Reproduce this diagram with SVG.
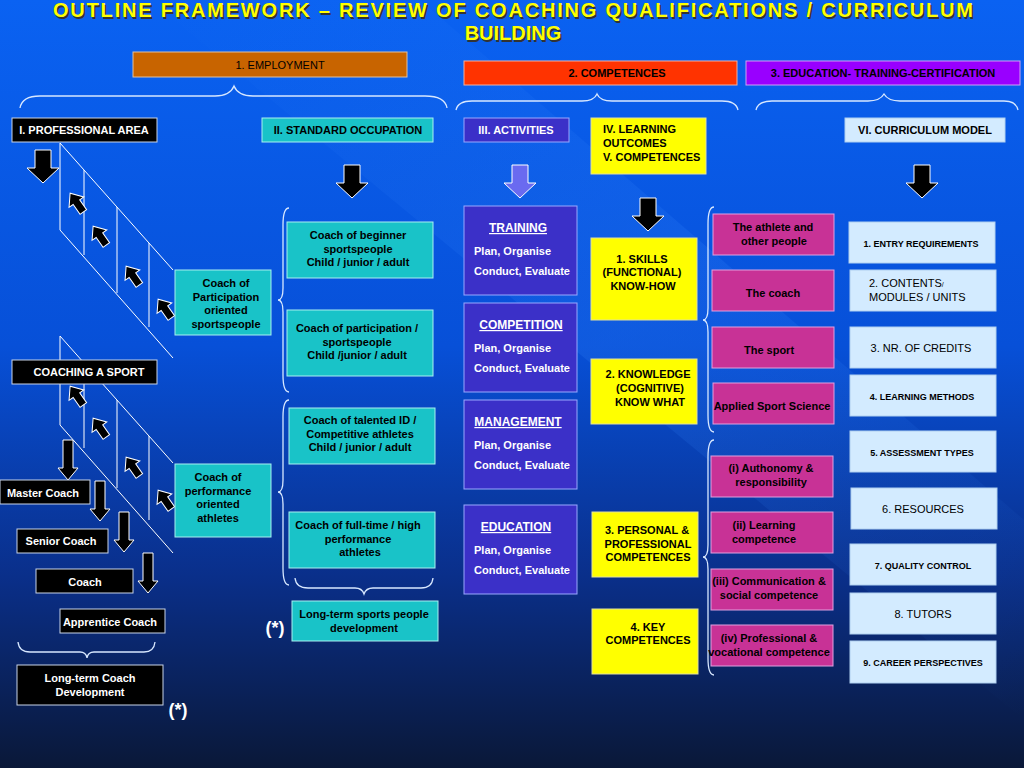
<svg xmlns="http://www.w3.org/2000/svg" xmlns:xlink="http://www.w3.org/1999/xlink" width="1024" height="768" viewBox="0 0 1024 768">
<defs>
<linearGradient id="bg" x1="0" y1="0" x2="0" y2="1">
<stop offset="0" stop-color="#0a62f2"/><stop offset="0.45" stop-color="#0750d8"/><stop offset="0.75" stop-color="#0a2f8a"/><stop offset="1" stop-color="#0a1838"/>
</linearGradient>
<linearGradient id="band" x1="0" y1="0" x2="1" y2="1">
<stop offset="0" stop-color="#3a8cff" stop-opacity="0"/><stop offset="0.5" stop-color="#3a8cff" stop-opacity="0.25"/><stop offset="1" stop-color="#3a8cff" stop-opacity="0"/>
</linearGradient>
<path id="bigDown" d="M-8,0 H8 V18 H16 L0,33 L-16,18 H-8 Z"/>
<path id="thinDown" d="M-5,0 H5 V28 H10 L0,40 L-10,28 H-5 Z"/>
<path id="upArr" d="M-4,11 V-1 H-9 L0,-12 L9,-1 H4 V11 Z"/>
<style>
text{font-family:"Liberation Sans",Arial,sans-serif;font-weight:bold;text-anchor:middle}
.w{fill:#fff}.k{fill:#000}
.s11{font-size:11px}.s10{font-size:10px}.s9{font-size:9px}.s12{font-size:12px}
.n{font-weight:normal}
.blk{fill:#000;stroke:#c8d4e8;stroke-width:1}
.cy{fill:#19c3c8;stroke:#a8f0f0;stroke-width:1}
.pu{fill:#3b30c8;stroke:#9aa8ff;stroke-width:1}
.ye{fill:#ffff00;stroke:#e0e0a0;stroke-width:1}
.mg{fill:#c83296;stroke:#e0a0e0;stroke-width:1}
.lb{fill:#d3ebff;stroke:#b0d0f0;stroke-width:1}
.arr{fill:#000;stroke:#fff;stroke-width:1}
.ln{fill:none;stroke:#fff;stroke-width:1}
.br{fill:none;stroke:#d8e8ff;stroke-width:1.3}
</style>
</defs>
<rect width="1024" height="768" fill="url(#bg)"/>
<polygon points="150,0 420,0 1024,520 1024,720" fill="url(#band)" opacity="0.7"/>

<g id="title">
<text x="513" y="17" font-size="20" fill="#333" textLength="920" transform="translate(1.5,1.5)">OUTLINE FRAMEWORK – REVIEW OF COACHING QUALIFICATIONS / CURRICULUM</text>
<text x="513" y="17" font-size="20" fill="#ffff00" textLength="920">OUTLINE FRAMEWORK – REVIEW OF COACHING QUALIFICATIONS / CURRICULUM</text>
<text x="513" y="40" font-size="20" fill="#333" transform="translate(1.5,1.5)">BUILDING</text>
<text x="513" y="40" font-size="20" fill="#ffff00">BUILDING</text>
</g>

<g id="headers">
<g id="employment"><rect x="133" y="52" width="274" height="25" fill="#c86400" stroke="#e0c0a0"/><text x="280" y="69" class="s11 k n" font-weight="bold">1. EMPLOYMENT</text></g>
<g id="competences"><rect x="464" y="61" width="273" height="24" fill="#ff3300" stroke="#f0b0a0"/><text x="617" y="77" class="s11 k">2. COMPETENCES</text></g>
<g id="education"><rect x="746" y="61" width="274" height="24" fill="#9900ff" stroke="#d0a0f0"/><text x="883" y="77" class="s11 k">3. EDUCATION- TRAINING-CERTIFICATION</text></g>
</g>

<g id="braces">
<path class="br" d="M20,108 Q22,96 40,96 L215,96 Q230,96 234,86 Q238,96 253,96 L425,96 Q445,96 447,108"/>
<path class="br" d="M456,110 Q458,101 472,101 L582,101 Q594,101 597,94 Q600,101 612,101 L722,101 Q736,101 738,110"/>
<path class="br" d="M756,110 Q758,101 772,101 L868,101 Q880,101 884,94 Q888,101 900,101 L1004,101 Q1016,101 1018,110"/>
<path class="br" d="M289,208 Q283,208 283,225 L283,288 Q283,300 278,300 Q283,300 283,312 L283,375 Q283,392 289,392"/>
<path class="br" d="M289,400 Q283,400 283,417 L283,480 Q283,492 278,492 Q283,492 283,504 L283,568 Q283,585 289,585"/>
<path class="br" d="M295,578 Q296,588 308,588 L355,588 Q362,588 364,594 Q366,588 373,588 L421,588 Q432,588 433,578"/>
<path class="br" d="M714,207 Q708,207 708,224 L708,308 Q708,320 703,320 Q708,320 708,332 L708,415 Q708,432 714,432"/>
<path class="br" d="M714,440 Q708,440 708,457 L708,545 Q708,557 703,557 Q708,557 708,569 L708,658 Q708,675 714,675"/>
<path class="br" d="M18,642 Q19,652 30,652 L80,652 Q86,652 87,658 Q88,652 94,652 L144,652 Q154,652 155,642"/>
</g>

<g id="connectors">
<path class="ln" d="M60,143 V230 L173,358 M60,143 L173,270 M84,170 V255 M117,207 V293 M149,243 V327"/>
<path class="ln" d="M60,336 V425 L173,553 M60,336 L173,463 M84,364 V448 M117,400 V488 M149,436 V520"/>
<use href="#bigDown" class="arr" transform="translate(43,150)"/>
<use href="#bigDown" class="arr" transform="translate(352,165)"/>
<use href="#bigDown" fill="#6a6af0" stroke="#fff" transform="translate(520,165)"/>
<use href="#bigDown" class="arr" transform="translate(648,198)"/>
<use href="#bigDown" class="arr" transform="translate(922,165)"/>
<use href="#thinDown" class="arr" transform="translate(68,440)"/>
<use href="#thinDown" class="arr" transform="translate(100,481)"/>
<use href="#thinDown" class="arr" transform="translate(124,512)"/>
<use href="#thinDown" class="arr" transform="translate(148,553)"/>
<use href="#upArr" class="arr" transform="translate(77,203) rotate(-35)"/>
<use href="#upArr" class="arr" transform="translate(100,236) rotate(-35)"/>
<use href="#upArr" class="arr" transform="translate(133,276) rotate(-35)"/>
<use href="#upArr" class="arr" transform="translate(165,309) rotate(-35)"/>
<use href="#upArr" class="arr" transform="translate(77,396) rotate(-35)"/>
<use href="#upArr" class="arr" transform="translate(100,428) rotate(-35)"/>
<use href="#upArr" class="arr" transform="translate(133,467) rotate(-35)"/>
<use href="#upArr" class="arr" transform="translate(165,500) rotate(-35)"/>
</g>

<g id="n-prof"><rect x="12" y="118" width="145" height="24" class="blk"/><text x="84" y="134" class="s11 w">I. PROFESSIONAL AREA</text></g>
<g id="n-std"><rect x="262" y="118" width="171" height="24" class="cy"/><text x="348" y="134" class="s11 k">II. STANDARD OCCUPATION</text></g>
<g id="n-act"><rect x="464" y="118" width="105" height="24" class="pu"/><text x="516" y="134" class="s11 w">III. ACTIVITIES</text></g>
<g id="n-lo"><rect x="591" y="118" width="115" height="56" class="ye"/><text x="603" y="133" class="s11 k" text-anchor="start" style="text-anchor:start">IV. LEARNING</text><text x="603" y="147" class="s11 k" style="text-anchor:start">OUTCOMES</text><text x="603" y="161" class="s11 k" style="text-anchor:start">V. COMPETENCES</text></g>
<g id="n-cm"><rect x="845" y="118" width="160" height="24" class="lb"/><text x="925" y="134" class="s11 k">VI. CURRICULUM MODEL</text></g>

<g id="n-cas"><rect x="12" y="360" width="145" height="24" class="blk"/><text x="89" y="376" class="s11 w">COACHING A SPORT</text></g>
<g id="n-master"><rect x="0" y="480" width="90" height="24" class="blk"/><text x="43" y="497" class="s11 w">Master Coach</text></g>
<g id="n-senior"><rect x="17" y="529" width="91" height="24" class="blk"/><text x="61" y="545" class="s11 w">Senior Coach</text></g>
<g id="n-coach"><rect x="36" y="569" width="97" height="24" class="blk"/><text x="85" y="586" class="s11 w">Coach</text></g>
<g id="n-appr"><rect x="60" y="609" width="105" height="24" class="blk"/><text x="110" y="626" class="s11 w">Apprentice Coach</text></g>
<g id="n-ltcd"><rect x="17" y="665" width="146" height="40" class="blk"/><text x="90" y="682" class="s11 w">Long-term Coach</text><text x="90" y="696" class="s11 w">Development</text></g>
<text x="178" y="716" font-size="18" class="w">(*)</text>
<text x="275" y="634" font-size="18" class="w">(*)</text>

<g id="n-cpart"><rect x="175" y="270" width="96" height="65" class="cy"/><text x="226" y="287" class="s11 k">Coach of</text><text x="226" y="301" class="s11 k">Participation</text><text x="226" y="314" class="s11 k">oriented</text><text x="226" y="328" class="s11 k">sportspeople</text></g>
<g id="n-cperf"><rect x="175" y="464" width="96" height="73" class="cy"/><text x="218" y="481" class="s11 k">Coach of</text><text x="218" y="495" class="s11 k">performance</text><text x="218" y="508" class="s11 k">oriented</text><text x="218" y="522" class="s11 k">athletes</text></g>

<g id="n-beg"><rect x="287" y="222" width="146" height="56" class="cy"/><text x="358" y="239" class="s11 k">Coach of beginner</text><text x="358" y="253" class="s11 k">sportspeople</text><text x="358" y="266" class="s11 k">Child / junior / adult</text></g>
<g id="n-par"><rect x="287" y="310" width="146" height="66" class="cy"/><text x="357" y="332" class="s11 k">Coach of participation /</text><text x="357" y="346" class="s11 k">sportspeople</text><text x="357" y="359" class="s11 k">Child /junior / adult</text></g>
<g id="n-tal"><rect x="289" y="408" width="146" height="56" class="cy"/><text x="360" y="424" class="s11 k">Coach of talented ID /</text><text x="360" y="438" class="s11 k">Competitive athletes</text><text x="360" y="451" class="s11 k">Child / junior / adult</text></g>
<g id="n-ft"><rect x="289" y="512" width="146" height="56" class="cy"/><text x="358" y="529" class="s11 k">Coach of full-time / high</text><text x="358" y="543" class="s11 k">performance</text><text x="360" y="556" class="s11 k">athletes</text></g>
<g id="n-ltsp"><rect x="292" y="601" width="146" height="40" class="cy"/><text x="364" y="618" class="s11 k">Long-term sports people</text><text x="364" y="632" class="s11 k">development</text></g>

<g id="n-train"><rect x="464" y="206" width="113" height="89" class="pu"/><text x="518" y="232" class="s12 w" text-decoration="underline">TRAINING</text><text x="474" y="255" class="s11 w" style="text-anchor:start">Plan, Organise</text><text x="474" y="275" class="s11 w" style="text-anchor:start">Conduct, Evaluate</text></g>
<g id="n-comp"><rect x="464" y="303" width="113" height="89" class="pu"/><text x="521" y="329" class="s12 w" text-decoration="underline">COMPETITION</text><text x="474" y="352" class="s11 w" style="text-anchor:start">Plan, Organise</text><text x="474" y="372" class="s11 w" style="text-anchor:start">Conduct, Evaluate</text></g>
<g id="n-mgmt"><rect x="464" y="400" width="113" height="89" class="pu"/><text x="518" y="426" class="s12 w" text-decoration="underline">MANAGEMENT</text><text x="474" y="449" class="s11 w" style="text-anchor:start">Plan, Organise</text><text x="474" y="469" class="s11 w" style="text-anchor:start">Conduct, Evaluate</text></g>
<g id="n-edu"><rect x="464" y="505" width="113" height="89" class="pu"/><text x="516" y="531" class="s12 w" text-decoration="underline">EDUCATION</text><text x="474" y="554" class="s11 w" style="text-anchor:start">Plan, Organise</text><text x="474" y="574" class="s11 w" style="text-anchor:start">Conduct, Evaluate</text></g>

<g id="n-skills"><rect x="591" y="238" width="106" height="82" class="ye"/><text x="642" y="263" class="s11 k">1. SKILLS</text><text x="642" y="276" class="s11 k">(FUNCTIONAL)</text><text x="643" y="290" class="s11 k">KNOW-HOW</text></g>
<g id="n-know"><rect x="591" y="359" width="106" height="65" class="ye"/><text x="648" y="378" class="s11 k">2. KNOWLEDGE</text><text x="650" y="392" class="s11 k">(COGNITIVE)</text><text x="650" y="406" class="s11 k">KNOW WHAT</text></g>
<g id="n-pers"><rect x="592" y="512" width="106" height="65" class="ye"/><text x="647" y="534" class="s11 k">3. PERSONAL &amp;</text><text x="648" y="548" class="s11 k">PROFESSIONAL</text><text x="648" y="561" class="s11 k">COMPETENCES</text></g>
<g id="n-key"><rect x="592" y="609" width="106" height="65" class="ye"/><text x="648" y="631" class="s11 k">4. KEY</text><text x="648" y="644" class="s11 k">COMPETENCES</text></g>

<g id="n-ath"><rect x="713" y="214" width="121" height="41" class="mg"/><text x="773" y="231" class="s11 k">The athlete and</text><text x="774" y="245" class="s11 k">other people</text></g>
<g id="n-thecoach"><rect x="712" y="270" width="122" height="41" class="mg"/><text x="773" y="297" class="s11 k">The coach</text></g>
<g id="n-sport"><rect x="712" y="327" width="122" height="41" class="mg"/><text x="769" y="354" class="s11 k">The sport</text></g>
<g id="n-ass"><rect x="713" y="383" width="121" height="41" class="mg"/><text x="772" y="410" class="s11 k">Applied Sport Science</text></g>
<g id="n-i"><rect x="711" y="456" width="122" height="41" class="mg"/><text x="771" y="472" class="s11 k">(i) Authonomy &amp;</text><text x="771" y="486" class="s11 k">responsibility</text></g>
<g id="n-ii"><rect x="711" y="512" width="122" height="41" class="mg"/><text x="764" y="529" class="s11 k">(ii) Learning</text><text x="764" y="543" class="s11 k">competence</text></g>
<g id="n-iii"><rect x="711" y="569" width="122" height="41" class="mg"/><text x="769" y="585" class="s11 k">(iii) Communication &amp;</text><text x="769" y="599" class="s11 k">social competence</text></g>
<g id="n-iv"><rect x="711" y="625" width="122" height="41" class="mg"/><text x="769" y="642" class="s11 k">(iv) Professional &amp;</text><text x="769" y="656" class="s11 k">vocational competence</text></g>

<g id="n-c1"><rect x="849" y="222" width="146" height="41" class="lb"/><text x="921" y="247" class="s9 k">1. ENTRY REQUIREMENTS</text></g>
<g id="n-c2"><rect x="850" y="270" width="146" height="41" class="lb"/><text x="869" y="287" class="s11 k n" style="text-anchor:start">2. CONTENTS<tspan font-size="7">/</tspan></text><text x="869" y="301" class="s11 k n" style="text-anchor:start">MODULES / UNITS</text></g>
<g id="n-c3"><rect x="850" y="327" width="146" height="41" class="lb"/><text x="921" y="352" class="s11 k n">3. NR. OF CREDITS</text></g>
<g id="n-c4"><rect x="850" y="375" width="146" height="41" class="lb"/><text x="922" y="400" class="s9 k">4. LEARNING METHODS</text></g>
<g id="n-c5"><rect x="850" y="431" width="146" height="41" class="lb"/><text x="922" y="456" class="s9 k">5. ASSESSMENT TYPES</text></g>
<g id="n-c6"><rect x="851" y="488" width="146" height="41" class="lb"/><text x="923" y="513" class="s11 k n">6. RESOURCES</text></g>
<g id="n-c7"><rect x="850" y="544" width="146" height="41" class="lb"/><text x="923" y="569" class="s9 k">7. QUALITY CONTROL</text></g>
<g id="n-c8"><rect x="850" y="593" width="146" height="41" class="lb"/><text x="923" y="618" class="s11 k n">8. TUTORS</text></g>
<g id="n-c9"><rect x="850" y="641" width="146" height="42" class="lb"/><text x="923" y="666" class="s9 k">9. CAREER PERSPECTIVES</text></g>
</svg>
